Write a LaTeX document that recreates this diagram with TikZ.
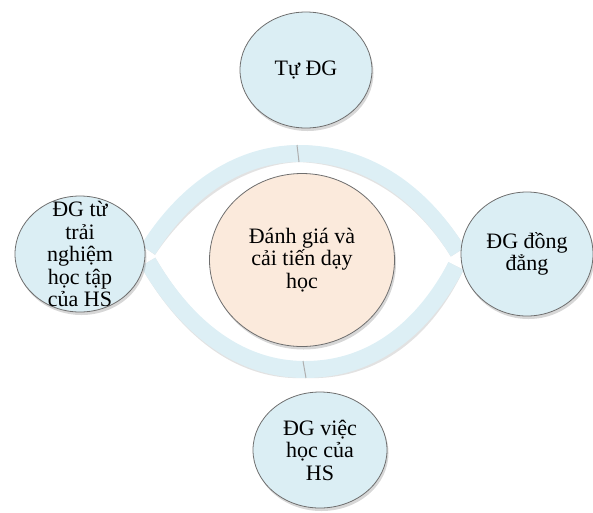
\documentclass[tikz,border=0pt]{standalone}
\usepackage{fontspec}
\setmainfont{Liberation Serif}
\usetikzlibrary{shapes.geometric, shadows}
\definecolor{bubblecol}{RGB}{219,238,244}
\definecolor{bubbleborder}{RGB}{110,110,110}
\definecolor{hubcol}{RGB}{251,234,220}
\definecolor{bandcol}{RGB}{221,239,245}
\definecolor{shadecol}{RGB}{140,140,140}
\tikzset{
  bubble/.style={ellipse, draw=bubbleborder, fill=bubblecol,
    line width=0.8pt, inner sep=0pt,
    drop shadow={shadow xshift=1.5pt, shadow yshift=-3pt,
      opacity=0.35, fill=shadecol}},
  hub/.style={bubble, fill=hubcol},
  txt/.style={font=\fontsize{22}{22.5}\selectfont, align=center,
    text=black, inner sep=0pt},
  band/.style={line width=17pt, color=bandcol},
  bandshade/.style={line width=17pt, color=shadecol, opacity=0.25},
  joint/.style={line width=1pt, color=shadecol!70},
}

\begin{document}
\begin{tikzpicture}[x=1pt, y=-1pt]

  \useasboundingbox (0,0) rectangle (593,512);

  % end points of the ring pieces
  \coordinate (tipL1) at (148,250);
  \coordinate (tipL2) at (148,262);
  \coordinate (tipR1) at (458,252);
  \coordinate (tipR2) at (456,266);
  \coordinate (jtop) at (299,153.5);
  \coordinate (jbot) at (305,369.5);

  % ring shadow
  \begin{scope}[shift={(1.5,3)}]
    \draw[bandshade] (tipL1) .. controls (182,195) and (235,153.5) .. (jtop)
      .. controls (369,153.5) and (423,195) .. (tipR1);
    \draw[bandshade] (tipR2) .. controls (425,325) and (375,369.5) .. (jbot)
      .. controls (235,369.5) and (183,322) .. (tipL2);
  \end{scope}

  % ring pieces
  \draw[band] (tipL1) .. controls (182,195) and (235,153.5) .. (jtop);
  \draw[band] (jtop) .. controls (369,153.5) and (423,195) .. (tipR1);
  \draw[band] (tipR2) .. controls (425,325) and (375,369.5) .. (jbot);
  \draw[band] (jbot) .. controls (235,369.5) and (183,322) .. (tipL2);
  \draw[joint] ([shift={(-2,-8.5)}]jtop) -- ([shift={(0,8.5)}]jtop);
  \draw[joint] ([shift={(-2,-8.5)}]jbot) -- ([shift={(1,8.5)}]jbot);

  % nodes
  \node[hub, minimum width=185pt, minimum height=173pt,
        label={[txt]center:{Đánh giá và\\cải tiến dạy\\học}}]
        (core) at (302,260) {};

  \node[bubble, minimum width=132pt, minimum height=116pt,
        label={[txt]center:{Tự ĐG}}]
        (self) at (306,70) {};

  \node[bubble, minimum width=130pt, minimum height=116pt,
        label={[txt]center:{ĐG từ\\trải\\nghiệm\\học tập\\của HS}}]
        (exper) at (80,254) {};

  \node[bubble, minimum width=132pt, minimum height=124pt,
        label={[txt]center:{ĐG đồng\\đẳng}}]
        (peer) at (527,254) {};

  \node[bubble, minimum width=134pt, minimum height=116pt,
        label={[txt]center:{ĐG việc\\học của\\HS}}]
        (learn) at (320,450) {};

\end{tikzpicture}
\end{document}
